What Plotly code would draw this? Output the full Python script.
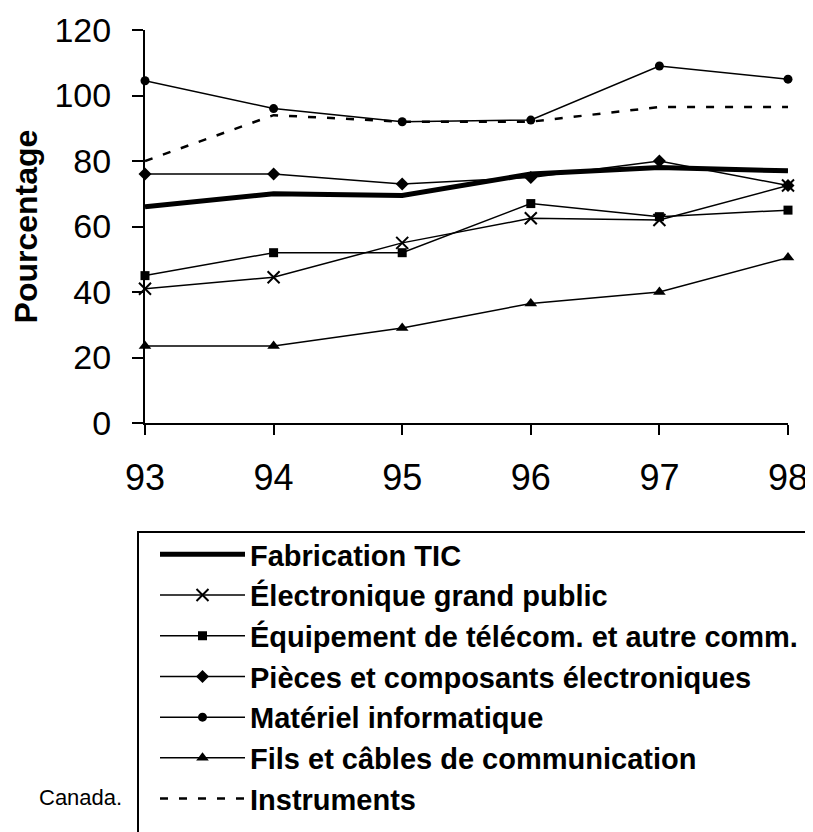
import plotly.graph_objects as go

years = [93, 94, 95, 96, 97, 98]
year_labels = ["93", "94", "95", "96", "97", "98"]

fabrication_tic = [66, 70, 69.5, 76, 78, 77]
electronique = [41, 44.5, 55, 62.5, 62, 72.5]
equipement = [45, 52, 52, 67, 63, 65]
pieces = [76, 76, 73, 75, 80, 72.5]
materiel = [104.5, 96, 92, 92.5, 109, 105]
fils = [23.5, 23.5, 29, 36.5, 40, 50.5]
instruments = [80, 94, 92, 92, 96.5, 96.5]

names = [
    "Fabrication TIC",
    "Électronique grand public",
    "Équipement de télécom. et autre comm.",
    "Pièces et composants électroniques",
    "Matériel informatique",
    "Fils et câbles de communication",
    "Instruments",
]

# page has an 8px body margin; the figure is shifted to compensate
OFF = 8
W, H = 813, 832
L, T = 145 - OFF, 30 - OFF
R = W - (788 - OFF)
B = H - (423 - OFF)
PW, PH = W - L - R, H - T - B


def px_x(x):
    return (x - OFF - L) / PW


def px_y(y):
    return (H - B - (y - OFF)) / PH


FONT = "Liberation Sans, Arial, sans-serif"

fig = go.Figure()

fig.add_trace(go.Scatter(x=years, y=fabrication_tic, name=names[0], mode="lines",
                         line=dict(color="black", width=5), cliponaxis=False))
fig.add_trace(go.Scatter(x=years, y=electronique, name=names[1], mode="lines+markers",
                         line=dict(color="black", width=1.5),
                         marker=dict(symbol="x-thin", size=12, line=dict(color="black", width=2)),
                         cliponaxis=False))
fig.add_trace(go.Scatter(x=years, y=equipement, name=names[2], mode="lines+markers",
                         line=dict(color="black", width=1.5),
                         marker=dict(symbol="square", size=9, color="black"), cliponaxis=False))
fig.add_trace(go.Scatter(x=years, y=pieces, name=names[3], mode="lines+markers",
                         line=dict(color="black", width=1.5),
                         marker=dict(symbol="diamond", size=10, color="black"), cliponaxis=False))
fig.add_trace(go.Scatter(x=years, y=materiel, name=names[4], mode="lines+markers",
                         line=dict(color="black", width=1.5),
                         marker=dict(symbol="circle", size=9, color="black"), cliponaxis=False))
fig.add_trace(go.Scatter(x=years, y=fils, name=names[5], mode="lines+markers",
                         line=dict(color="black", width=1.5),
                         marker=dict(symbol="triangle-up", size=11, color="black"), cliponaxis=False))
fig.add_trace(go.Scatter(x=years, y=instruments, name=names[6], mode="lines",
                         line=dict(color="black", width=2.5, dash="8px,11px"), cliponaxis=False))

fig.update_layout(
    width=W, height=H,
    margin=dict(l=L, r=R, t=T, b=B, autoexpand=False),
    paper_bgcolor="white", plot_bgcolor="white",
    font=dict(family=FONT, color="black"),
    showlegend=True,
    legend=dict(
        x=px_x(155), y=px_y(529), xanchor="left", yanchor="top",
        font=dict(family=FONT, size=29, color="black", weight="bold"),
        borderwidth=0, bgcolor="rgba(0,0,0,0)",
        itemwidth=85, traceorder="normal",
    ),
    shapes=[
        dict(type="rect", xref="paper", yref="paper",
             x0=px_x(138), x1=px_x(840), y0=px_y(532), y1=px_y(860),
             line=dict(color="black", width=2), fillcolor="rgba(0,0,0,0)", layer="above"),
    ],
    xaxis=dict(
        range=[93, 98], tickvals=years, ticktext=year_labels,
        showgrid=False, zeroline=False, showline=True, linecolor="black", linewidth=2,
        ticks="outside", ticklen=10, tickwidth=2, tickcolor="black",
        tickfont=dict(family=FONT, size=36, color="black"), ticklabelstandoff=12,
    ),
    yaxis=dict(
        range=[0, 120], tickvals=[0, 20, 40, 60, 80, 100, 120],
        showgrid=False, zeroline=False, showline=True, linecolor="black", linewidth=2,
        ticks="outside", ticklen=11, tickwidth=2, tickcolor="black",
        tickfont=dict(family=FONT, size=34, color="black"), ticklabelstandoff=14,
        title=dict(text="Pourcentage", font=dict(family=FONT, size=32, color="black", weight="bold"),
                   standoff=10),
    ),
    annotations=[
        dict(text="Canada.", xref="paper", yref="paper", x=px_x(37), y=px_y(797),
             xanchor="left", yanchor="middle", showarrow=False,
             font=dict(family=FONT, size=22, color="black")),
    ],
)

fig.write_html("out.html")
